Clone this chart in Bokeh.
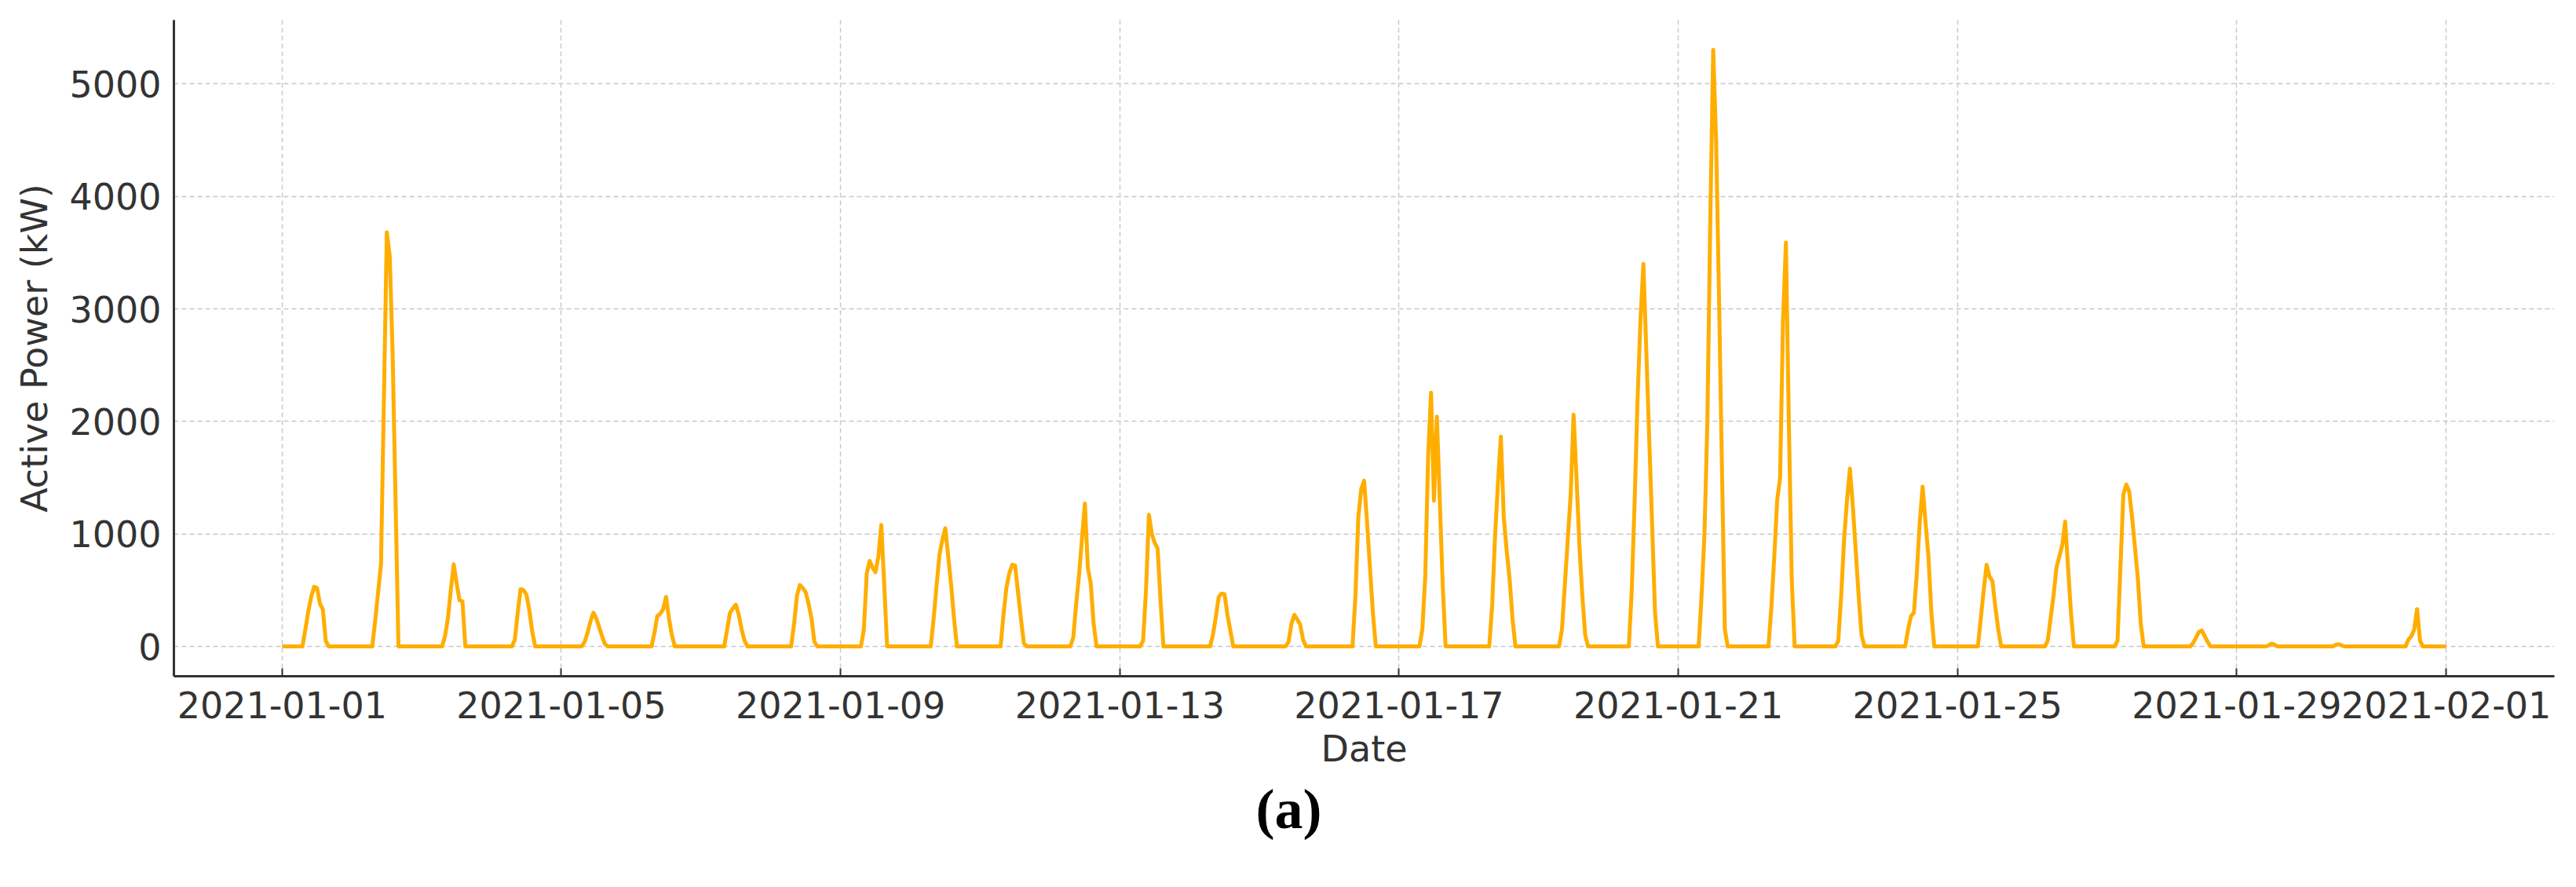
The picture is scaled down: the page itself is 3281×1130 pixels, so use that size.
import numpy as np
import pandas as pd
from bokeh.plotting import figure
from bokeh.models import (ColumnDataSource, Range1d, FixedTicker, DatetimeTickFormatter,
                          Title)
from bokeh.embed import file_html
from bokeh.resources import INLINE

# ---------------- data ----------------
# Hourly series, 2021-01-01 00:00 .. 2021-02-01 00:00; night hours are 0 kW.
# For each day: first listed hour and the hourly values (kW) from that hour on.
day_dates = ["2021-01-%02d" % d for d in range(1, 32)]
day_first_hour = [7, 7, 7, 7, 7, 7, 8, 7, 7, 7,
                  7, 7, 7, 7, 9, 8, 7, 7, 7, 7,
                  7, 7, 7, 6, 7, 6, 6, 8, 10, 9,
                  10]
day_values = [
    [0, 150, 310, 440, 530, 520, 380, 330, 50, 0],                 # 01-01
    [0, 230, 480, 730, 2200, 3680, 3470, 2600, 1300, 0],           # 01-02
    [0, 90, 250, 500, 730, 560, 410, 400, 0],                      # 01-03
    [0, 60, 300, 510, 500, 460, 320, 130, 0],                      # 01-04
    [0, 40, 120, 220, 300, 250, 170, 90, 20, 0],                   # 01-05
    [0, 120, 270, 290, 330, 440, 250, 100, 0],                     # 01-06
    [0, 150, 300, 340, 370, 280, 150, 50, 0],                      # 01-07
    [0, 200, 450, 545, 520, 480, 380, 250, 40, 0],                 # 01-08
    [0, 150, 650, 760, 700, 660, 800, 1080, 550, 0],               # 01-09
    [0, 250, 540, 815, 950, 1050, 800, 550, 250, 0],               # 01-10
    [0, 280, 520, 650, 726, 720, 480, 250, 30, 0],                 # 01-11
    [0, 80, 380, 640, 960, 1270, 700, 560, 200, 0],                # 01-12
    [0, 50, 500, 1170, 1000, 920, 870, 400, 0],                    # 01-13
    [0, 100, 260, 440, 470, 465, 280, 140, 0],                     # 01-14
    [0, 40, 200, 280, 240, 195, 60, 0],                            # 01-15
    [0, 450, 1150, 1400, 1473, 1100, 700, 300, 0],                 # 01-16
    [0, 150, 620, 1690, 2256, 1295, 2043, 1300, 550, 0],           # 01-17
    [0, 360, 980, 1450, 1865, 1150, 850, 600, 250, 0],             # 01-18
    [0, 150, 550, 950, 1350, 2060, 1500, 900, 450, 100, 0],        # 01-19
    [0, 500, 1300, 2200, 2900, 3400, 2630, 1850, 1080, 300, 0],    # 01-20
    [0, 450, 1000, 2000, 3800, 5303, 4500, 3100, 1600, 150, 0],    # 01-21
    [0, 350, 800, 1300, 1500, 2900, 3590, 2000, 600, 0],           # 01-22
    [50, 450, 950, 1300, 1580, 1250, 850, 450, 100, 0],            # 01-23
    [0, 150, 270, 300, 650, 1100, 1420, 1100, 800, 300, 0],        # 01-24
    [0, 250, 500, 725, 620, 580, 350, 150, 0],                     # 01-25
    [0, 50, 250, 450, 700, 800, 900, 1110, 700, 300, 0],           # 01-26
    [0, 50, 700, 1350, 1440, 1380, 1150, 880, 600, 200, 0],        # 01-27
    [0, 30, 80, 130, 140, 90, 40, 0],                              # 01-28
    [0, 10, 25, 15, 0],                                            # 01-29
    [0, 15, 20, 10, 0],                                            # 01-30
    [0, 60, 90, 150, 332, 50, 0],                                  # 01-31
]
y_ticks = [0, 1000, 2000, 3000, 4000, 5000]
x_tick_dates = ["2021-01-01", "2021-01-05", "2021-01-09", "2021-01-13", "2021-01-17",
                "2021-01-21", "2021-01-25", "2021-01-29", "2021-02-01"]
caption = "(a)"

# ---------------- build hourly series ----------------
times = pd.date_range("2021-01-01 00:00", "2021-02-01 00:00", freq="h")
power = np.zeros(len(times))
for i, (start, vals) in enumerate(zip(day_first_hour, day_values)):
    base = i * 24 + start
    for k, v in enumerate(vals):
        power[base + k] = v

src = ColumnDataSource(dict(t=times, p=power))

t0 = pd.Timestamp("2021-01-01")
t1 = pd.Timestamp("2021-02-01")
pad = (t1 - t0) * 0.05
ymax = max(max(v) for v in day_values)

FONT = "DejaVu Sans"
TXT = "#333333"

p = figure(x_axis_type="datetime", output_backend="svg", toolbar_location=None,
           frame_width=3032, frame_height=836,
           min_border_left=221, min_border_right=20, min_border_top=25, min_border_bottom=259,
           x_range=Range1d(t0 - pad, t1 + pad),
           y_range=Range1d(-0.05 * ymax, 1.05 * ymax))
p.outline_line_color = None
p.background_fill_color = "white"
p.border_fill_color = "white"

p.line("t", "p", source=src, line_color="#FFAE00", line_width=5, line_join="round")

# axes
xa = p.xaxis[0]
xa.ticker = FixedTicker(ticks=[pd.Timestamp(d).value / 1e6 for d in x_tick_dates])
fmt = "%Y-%m-%d"
xa.formatter = DatetimeTickFormatter(microseconds=fmt, milliseconds=fmt, seconds=fmt,
                                     minsec=fmt, minutes=fmt, hourmin=fmt, hours=fmt,
                                     days=fmt, months=fmt, years=fmt)
xa.axis_label = "Date"
xa.major_tick_in = 10
xa.major_tick_out = 0
xa.major_label_standoff = 19
xa.axis_label_standoff = 9

ya = p.yaxis[0]
ya.ticker = FixedTicker(ticks=y_ticks)
ya.axis_label = "Active Power (kW)"
ya.major_tick_in = 0
ya.major_tick_out = 0
ya.major_label_standoff = 16
ya.axis_label_standoff = 14

for ax in (xa, ya):
    ax.minor_tick_line_color = None
    ax.axis_line_color = TXT
    ax.axis_line_width = 3
    ax.major_tick_line_color = TXT
    ax.major_tick_line_width = 2
    ax.major_label_text_font = FONT
    ax.major_label_text_font_size = "46px"
    ax.major_label_text_color = TXT
    ax.axis_label_text_font = FONT
    ax.axis_label_text_font_size = "46px"
    ax.axis_label_text_font_style = "normal"
    ax.axis_label_text_color = TXT

for g in (p.xgrid[0], p.ygrid[0]):
    g.grid_line_color = "#c8c8c8"
    g.grid_line_width = 1.5
    g.grid_line_dash = "6 4"

# caption "(a)" below the chart
p.add_layout(Title(text=caption, align="left", offset=1378, standoff=10,
                   text_font="Liberation Serif", text_font_size="72px",
                   text_font_style="bold", text_color="black"), "below")

open("out.html", "w").write(file_html(p, INLINE))
